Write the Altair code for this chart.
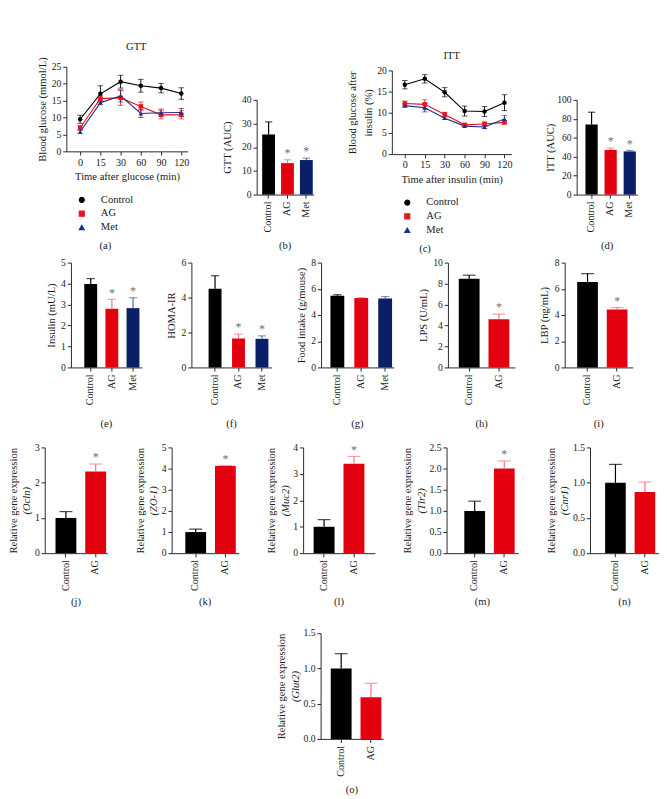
import altair as alt
import pandas as pd

FONT = "Liberation Serif"
INK = "#1a1a1a"
GROUPS = ["Control", "AG", "Met"]
BAR_COLORS = ["#000000", "#e3000f", "#0a1f66"]
ERR_COLORS = ["#000000", "#f07a7a", "#5a68a8"]
LINE_COLORS = ["#000000", "#e8141c", "#1a2e8a"]
SHAPES = ["circle", "square", "triangle-up"]
STAR_COLOR = "#707070"

# ---------------- data ----------------
TIMES = ["0", "15", "30", "60", "90", "120"]

gtt_control = [9.5, 17.0, 20.6, 19.4, 18.7, 17.1]
gtt_control_sd = [1.2, 2.4, 1.9, 1.9, 1.4, 1.7]
gtt_ag = [7.0, 15.6, 15.8, 13.3, 10.8, 10.8]
gtt_ag_sd = [0.6, 0.8, 2.2, 1.3, 1.2, 1.2]
gtt_met = [5.8, 14.4, 16.4, 11.2, 11.4, 11.5]
gtt_met_sd = [0.5, 0.6, 1.8, 1.2, 1.1, 1.2]
gtt_yticks = [0, 5, 10, 15, 20, 25]

itt_control = [16.6, 18.0, 14.8, 10.3, 10.2, 12.3]
itt_control_sd = [1.0, 1.0, 1.1, 1.2, 1.2, 1.9]
itt_ag = [12.1, 11.9, 9.5, 7.0, 7.2, 7.6]
itt_ag_sd = [0.6, 1.1, 0.5, 0.3, 0.5, 0.4]
itt_met = [11.6, 11.1, 8.6, 6.7, 6.5, 8.4]
itt_met_sd = [0.4, 1.0, 0.3, 0.2, 0.4, 0.8]
itt_yticks = [0, 5, 10, 15, 20]

gtt_auc = [25.4, 13.3, 14.6]
gtt_auc_sd = [5.3, 1.4, 0.8]
gtt_auc_star = [False, True, True]
gtt_auc_ticks = [0, 10, 20, 30, 40]

itt_auc = [74.0, 47.2, 45.6]
itt_auc_sd = [13.0, 2.0, 1.0]
itt_auc_star = [False, True, True]
itt_auc_ticks = [0, 20, 40, 60, 80, 100]

insulin = [3.98, 2.80, 2.83]
insulin_sd = [0.26, 0.45, 0.50]
insulin_star = [False, True, True]
insulin_ticks = [0, 1, 2, 3, 4, 5]

homa = [4.50, 1.66, 1.64]
homa_sd = [0.75, 0.25, 0.17]
homa_star = [False, True, True]
homa_ticks = [0, 2, 4, 6]

food = [5.47, 5.30, 5.26]
food_sd = [0.08, 0.03, 0.15]
food_star = [False, False, False]
food_ticks = [0, 2, 4, 6, 8]

lps = [8.46, 4.60]
lps_sd = [0.34, 0.49]
lps_star = [False, True]
lps_ticks = [0, 2, 4, 6, 8, 10]

lbp = [6.52, 4.43]
lbp_sd = [0.64, 0.14]
lbp_star = [False, True]
lbp_ticks = [0, 2, 4, 6, 8]

ocln = [1.00, 2.32]
ocln_sd = [0.18, 0.21]
ocln_star = [False, True]
ocln_ticks = [0, 1, 2, 3]

zo1 = [1.00, 4.12]
zo1_sd = [0.14, 0.03]
zo1_star = [False, True]
zo1_ticks = [0, 1, 2, 3, 4, 5]

muc2 = [1.00, 3.38]
muc2_sd = [0.27, 0.28]
muc2_star = [False, True]
muc2_ticks = [0, 1, 2, 3, 4]

tlr2 = [1.00, 2.00]
tlr2_sd = [0.23, 0.18]
tlr2_star = [False, True]
tlr2_ticks = [0.0, 0.5, 1.0, 1.5, 2.0, 2.5]

cnr1 = [1.00, 0.87]
cnr1_sd = [0.26, 0.14]
cnr1_star = [False, False]
cnr1_ticks = [0.0, 0.5, 1.0, 1.5]

glut2 = [1.00, 0.59]
glut2_sd = [0.21, 0.20]
glut2_star = [False, False]
glut2_ticks = [0.0, 0.5, 1.0, 1.5]


def ax(**kw):
    base = dict(labelFont=FONT, titleFont=FONT, labelFontSize=10.5, titleFontSize=11.5,
                titleFontWeight="normal", labelColor=INK, titleColor=INK,
                domainColor=INK, tickColor=INK, tickSize=4, grid=False, labelPadding=2)
    base.update(kw)
    return alt.Axis(**base)


def caption_title(text, offset):
    return alt.TitleParams(text, orient="bottom", offset=offset, anchor="middle",
                           font=FONT, fontSize=11.5, fontWeight="normal", color=INK)


def bar_panel(means, sds, stars, ticks, ytitle, caption, width, height,
              pin, pout, align=0.8, cap_size=9, fmt="d", gene=None,
              label_w=6, top_gap=0, title_dx=None, cap_offset=9):
    """height = full panel height; the value axis occupies height - top_gap."""
    n = len(means)
    groups = GROUPS[:n]
    df = pd.DataFrame({"group": groups, "mean": means, "sd": sds, "star": stars})
    base = alt.Chart(df).transform_calculate(top="datum.mean + datum.sd")
    xs = alt.Scale(domain=groups, paddingInner=pin, paddingOuter=pout, align=align)
    ys = alt.Scale(domain=[ticks[0], ticks[-1]], nice=False, range=[height, top_gap])
    x_none = alt.X("group:N", scale=xs, sort=groups, axis=None)
    x_main = alt.X("group:N", scale=xs, sort=groups,
                   axis=ax(title=None, labelAngle=-90, labelPadding=3, labelFontSize=11))
    extra = {}
    if top_gap:
        extra = dict(titleX=title_dx, titleY=top_gap + (height - top_gap) / 2,
                     titleBaseline="middle", titleAlign="center", titleAngle=270)
    if gene:
        y_axis = ax(title=gene, titleFontStyle="italic", values=ticks, format=fmt,
                    titlePadding=3, **extra)
    else:
        y_axis = ax(title=ytitle, values=ticks, format=fmt, titlePadding=5, **extra)
    bcol = alt.Color("group:N", scale=alt.Scale(domain=groups, range=BAR_COLORS[:n]),
                     legend=None)
    ecol = alt.Color("group:N", scale=alt.Scale(domain=groups, range=ERR_COLORS[:n]),
                     legend=None)
    bars = base.mark_bar().encode(x=x_main, y=alt.Y("mean:Q", scale=ys, axis=y_axis),
                                  color=bcol)
    if gene:
        outer = ax(orient="left", title=ytitle, labels=False, ticks=False,
                   domain=False, titlePadding=4 + 2 + label_w + 3 + 14)
        err_y = alt.Y("mean:Q", scale=ys, axis=outer)
    else:
        err_y = alt.Y("mean:Q", scale=ys, axis=None)
    err = base.mark_rule(strokeWidth=1.3).encode(x=x_none, y=err_y, y2="top:Q",
                                                 color=ecol)
    cap = base.mark_tick(thickness=1.3, size=cap_size).encode(
        x=x_none, y=alt.Y("top:Q", scale=ys, axis=None), color=ecol)
    star = base.transform_filter("datum.star").mark_text(
        text="*", dy=-7, fontSize=13, color=STAR_COLOR, fill=STAR_COLOR, font=FONT
    ).encode(x=x_none, y=alt.Y("top:Q", scale=ys, axis=None))
    ch = alt.layer(bars, err, cap, star).resolve_scale(color="independent")
    ch = ch.resolve_axis(x="independent", y="independent")
    return ch.properties(width=width, height=height,
                         title=caption_title(caption, cap_offset))


def line_panel(series, title, title_dx, ytitle, ytitle_outer, outer_pad, ticks,
               xtitle, caption, cap_align, width, height, align, top_gap=0):
    rows = []
    for g, (m, s) in zip(GROUPS, series):
        for i, (t, mv, sv) in enumerate(zip(TIMES, m, s)):
            rows.append({"time": t, "idx": i, "group": g, "mean": mv, "sd": sv})
    df = pd.DataFrame(rows)
    base = alt.Chart(df).transform_calculate(lo="datum.mean - datum.sd",
                                             hi="datum.mean + datum.sd")
    xs = alt.Scale(type="point", domain=TIMES, padding=0.5, align=align)
    ys = alt.Scale(domain=[ticks[0], ticks[-1]], nice=False, range=[height, top_gap])
    # the panel caption "(a)" / "(c)" sits under the legend, as the legend's title
    leg = alt.Legend(title=caption, titleOrient="bottom", titleAnchor="middle",
                     titleAlign=cap_align, titlePadding=9, titleFont=FONT,
                     titleFontSize=11.5, titleFontWeight="normal", titleColor=INK,
                     orient="bottom", offset=13, direction="vertical",
                     labelFont=FONT, labelFontSize=11.5, labelColor=INK,
                     symbolSize=30, rowPadding=2, labelOffset=15, symbolOffset=11,
                     symbolStrokeWidth=1.2, symbolOpacity=1)
    col = alt.Color("group:N", scale=alt.Scale(domain=GROUPS, range=LINE_COLORS),
                    legend=leg)
    x_none = alt.X("time:O", scale=xs, sort=TIMES, axis=None)
    if ytitle_outer:
        err_y = alt.Y("lo:Q", scale=ys,
                      axis=ax(orient="left", title=ytitle_outer, labels=False,
                              ticks=False, domain=False, titlePadding=outer_pad))
    else:
        err_y = alt.Y("lo:Q", scale=ys, axis=None)
    err = base.mark_rule(strokeWidth=1).encode(
        x=x_none, y=err_y, y2="hi:Q", color=col)
    cap_lo = base.mark_tick(size=6, thickness=1).encode(
        x=x_none, y=alt.Y("lo:Q", scale=ys, axis=None), color=col)
    cap_hi = base.mark_tick(size=6, thickness=1).encode(
        x=x_none, y=alt.Y("hi:Q", scale=ys, axis=None), color=col)
    line = base.mark_line(strokeWidth=1.2).encode(
        x=alt.X("time:O", scale=xs, sort=TIMES,
                axis=ax(title=xtitle, labelAngle=0, labelFontSize=11, titlePadding=5)),
        y=alt.Y("mean:Q", scale=ys,
                axis=ax(orient="left", title=ytitle, values=ticks, titlePadding=4)),
        color=col, order=alt.Order("idx:Q"))
    pts = base.mark_point(filled=True, size=24, opacity=1).encode(
        x=x_none, y=alt.Y("mean:Q", scale=ys, axis=None), color=col,
        shape=alt.Shape("group:N", scale=alt.Scale(domain=GROUPS, range=SHAPES),
                        legend=leg))
    ch = alt.layer(err, cap_lo, cap_hi, line, pts).resolve_axis(
        x="independent", y="independent")
    return ch.properties(width=width, height=height,
                         title=alt.TitleParams(title, orient="top", frame="group",
                                               anchor="middle", dx=title_dx, offset=5,
                                               font=FONT, fontSize=11.5,
                                               fontWeight="normal", color=INK))


def vstack(a, b, spacing):
    return alt.vconcat(a, b, spacing=spacing, center=True).resolve_scale(
        color="independent", shape="independent")


def build():
    pa = line_panel([(gtt_control, gtt_control_sd), (gtt_ag, gtt_ag_sd),
                     (gtt_met, gtt_met_sd)], "GTT", 10, "Blood glucose (mmol/L)",
                    None, 0, gtt_yticks, "Time after glucose (min)", "(a)", "left",
                    132, 92, 0.68, top_gap=0)
    pb = bar_panel(gtt_auc, gtt_auc_sd, gtt_auc_star, gtt_auc_ticks, "GTT (AUC)",
                   "(b)", 62, 139, 0.32, 0.17, align=0.85, cap_size=8, top_gap=36,
                   title_dx=-31, cap_offset=10)
    pc = line_panel([(itt_control, itt_control_sd), (itt_ag, itt_ag_sd),
                     (itt_met, itt_met_sd)], "ITT", 0, "insulin (%)",
                    "Blood glucose after", 38, itt_yticks,
                    "Time after insulin (min)", "(c)", "center", 130, 95, 0.65,
                    top_gap=4)
    pd_ = bar_panel(itt_auc, itt_auc_sd, itt_auc_star, itt_auc_ticks, "ITT (AUC)",
                    "(d)", 66, 139, 0.36, 0.27, align=0.85, cap_size=8, top_gap=36,
                    title_dx=-28, cap_offset=10)
    row1 = alt.hconcat(pa, pb, pc, pd_, spacing=36).resolve_scale(
        color="independent", shape="independent")

    pe = bar_panel(insulin, insulin_sd, insulin_star, insulin_ticks, "Insulin (mU/L)",
                   "(e)", 77, 114, 0.39, 0.37, align=0.85, cap_size=9, cap_offset=15)
    pf = bar_panel(homa, homa_sd, homa_star, homa_ticks, "HOMA-IR",
                   "(f)", 87, 114, 0.45, 0.43, align=0.85, cap_size=9, cap_offset=15)
    pg = bar_panel(food, food_sd, food_star, food_ticks, "Food intake (g/mouse)",
                   "(g)", 79, 114, 0.42, 0.23, align=0.85, cap_size=9, cap_offset=15)
    ph = bar_panel(lps, lps_sd, lps_star, lps_ticks, "LPS (U/mL)",
                   "(h)", 73, 114, 0.3, 0.28, align=0.65, cap_size=14, cap_offset=15)
    pi = bar_panel(lbp, lbp_sd, lbp_star, lbp_ticks, "LBP (ng/mL)",
                   "(i)", 74, 114, 0.3, 0.3, align=0.7, cap_size=14, cap_offset=15)
    row2 = alt.hconcat(pe, pf, pg, ph, pi, spacing=26).resolve_scale(color="independent")

    rel = "Relative gene expression"
    pj = bar_panel(ocln, ocln_sd, ocln_star, ocln_ticks, rel, "(j)", 68, 115,
                   0.3, 0.2, align=0.9, cap_size=14, gene="(Ocln)", label_w=6,
                   cap_offset=7)
    pk = bar_panel(zo1, zo1_sd, zo1_star, zo1_ticks, rel, "(k)", 73, 115,
                   0.3, 0.28, align=0.82, cap_size=14, gene="(ZO-1)", label_w=6,
                   cap_offset=7)
    pl = bar_panel(muc2, muc2_sd, muc2_star, muc2_ticks, rel, "(l)", 78, 115,
                   0.3, 0.35, align=0.5, cap_size=14, gene="(Muc2)", label_w=6,
                   cap_offset=7)
    pm = bar_panel(tlr2, tlr2_sd, tlr2_star, tlr2_ticks, rel, "(m)", 78, 115,
                   0.3, 0.36, align=0.83, cap_size=14, fmt=".1f", gene="(Tlr2)",
                   label_w=14, cap_offset=7)
    pn = bar_panel(cnr1, cnr1_sd, cnr1_star, cnr1_ticks, rel, "(n)", 75, 115,
                   0.3, 0.32, align=0.8, cap_size=14, fmt=".1f", gene="(Cnr1)",
                   label_w=14, cap_offset=7)
    row3 = alt.hconcat(pj, pk, pl, pm, pn, spacing=30).resolve_scale(color="independent")

    po = bar_panel(glut2, glut2_sd, glut2_star, glut2_ticks, rel, "(o)", 68, 115,
                   0.3, 0.2, align=0.85, cap_size=14, fmt=".1f", gene="(Glut2)",
                   label_w=14, cap_offset=9)
    chart = vstack(vstack(vstack(row1, row2, 4), row3, 14), po, 22)
    chart = chart.properties(padding={"left": 0, "top": 0, "right": 0, "bottom": 0})
    chart = chart.configure_view(stroke=None).configure_axis(
        labelFont=FONT, titleFont=FONT, titleFontWeight="normal", grid=False
    ).configure_title(font=FONT, fontSize=11.5, fontWeight="normal", color=INK
    ).configure_legend(labelFont=FONT)
    return chart


chart = build()
chart.save("out.html", embed_options={"renderer": "svg", "actions": False})
